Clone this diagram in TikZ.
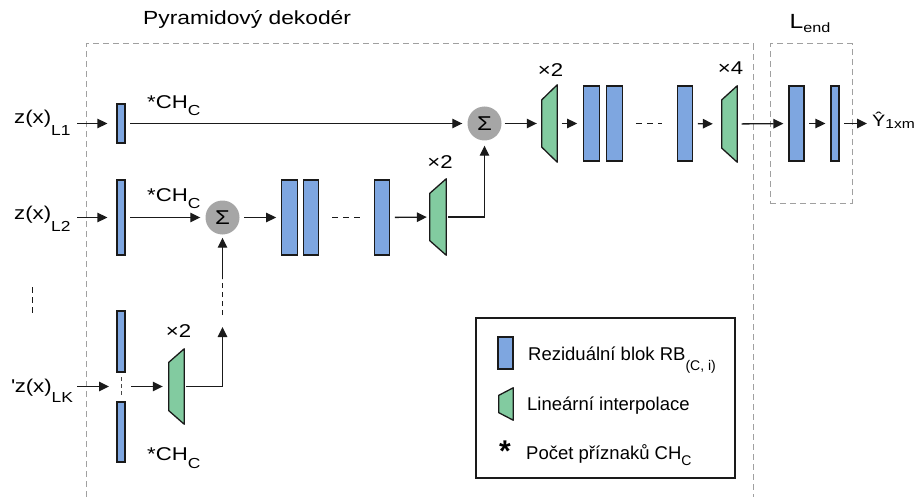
\documentclass[tikz,border=0pt]{standalone}
\usepackage{fontspec}
\setmainfont{Liberation Sans}
\newfontfamily\wide{Liberation Sans}[FakeStretch=1.2]
\usetikzlibrary{arrows.meta,calc}

\definecolor{rbfill}{HTML}{7EA6E0}
\definecolor{lifill}{HTML}{82CBA0}
\definecolor{sumfill}{HTML}{A6A6A6}
\definecolor{framegray}{HTML}{A0A0A0}
\definecolor{ink}{HTML}{1A1A1A}

% lowered, smaller subscript: #1 drop, #2 size, #3 text
\newcommand\lowsub[3]{\raisebox{-#1pt}{\fontsize{#2}{#2}\selectfont #3}}

\tikzset{
  rb/.style={draw=ink, fill=rbfill, line width=1.3pt, inner sep=0pt,
             minimum width=15.5pt, minimum height=75pt},
  rbthin/.style={rb, minimum width=8pt},
  sumnode/.style={circle, fill=sumfill, minimum size=34pt, inner sep=0pt,
                  font=\wide\fontsize{20}{20}\selectfont},
  arr/.style={draw=ink, line width=1.3pt, -{Triangle[length=10pt,width=9.5pt]},
              shorten <=4.5pt, shorten >=5pt},
  trapbox/.style={inner sep=0pt},
  trapline/.style={draw=ink, fill=lifill, line width=1.3pt, line join=round},
  lbl/.style={inner sep=0pt, font=\wide\fontsize{18.5}{18.5}\selectfont},
  legtxt/.style={inner sep=0pt, font=\fontsize{18.5}{18.5}\selectfont},
  groupframe/.style={draw=framegray, line width=1pt, dash pattern=on 6pt off 4pt},
  gapline/.style={draw=ink, line width=1.3pt, dash pattern=on 6pt off 5pt},
}

% linear interpolation block: name, x, y, width, height, slant
\newcommand\interp[6]{%
  \node[trapbox, minimum width=#4pt, minimum height=#5pt] (#1) at (#2,#3) {};
  \draw[trapline] (#1.north east) -- (#1.south east)
    -- ([yshift=#6pt]#1.south west) -- ([yshift=-#6pt]#1.north west) -- cycle;
}

\begin{document}
\begin{tikzpicture}[x=1pt,y=-1pt]
\useasboundingbox (0,0) rectangle (920,497);

% group frames
\coordinate (fbl) at (86,497);
\coordinate (ftl) at (86,44);
\coordinate (ftr) at (753,44);
\coordinate (fbr) at (753,497);
\draw[groupframe] (fbl) -- (ftl) -- (ftr) -- (fbr);
\node[groupframe, inner sep=0pt, minimum width=82pt, minimum height=159pt] (lend) at (811,123.5) {};

\node[lbl, anchor=base west, font=\wide\fontsize{19}{19}\selectfont] (title) at (143,25) {Pyramidový dekodér};
\node[lbl, anchor=base] (lendlbl) at (810,29) {\fontsize{20.5}{20.5}\selectfont L\lowsub{4}{13.5}{end}};

% inputs
\node[lbl, anchor=base west] (z1) at (14,123.5) {z(x)\lowsub{12}{14.5}{L1}};
\node[lbl, anchor=base west] (z2) at (14,219) {z(x)\lowsub{12}{14.5}{L2}};
\node[lbl, anchor=base west] (zK) at (11,392) {\textquotesingle z(x)\lowsub{10}{14.5}{LK}};
\coordinate (vd1) at (32.5,287);
\coordinate (vd2) at (32.5,313);
\draw[draw=ink, line width=1.2pt, dash pattern=on 6pt off 4pt] (vd1) -- (vd2);

% level 1
\node[rbthin, minimum height=39pt] (b1) at (121,123.5) {};
\node[lbl, anchor=base west] (ch1) at (147,108.5) {*CH\lowsub{7.5}{14.5}{C}};

% level 2
\node[rbthin] (b2) at (121,217.5) {};
\node[lbl, anchor=base west] (ch2) at (147,201) {*CH\lowsub{7.5}{14.5}{C}};
\node[sumnode] (s2) at (222.5,217.5) {Σ};
\node[rb] (b3) at (289.5,217.5) {};
\node[rb] (b4) at (311,217.5) {};
\node[rb] (b5) at (382,217.5) {};
\interp{tA}{438}{217}{16}{76}{14.5}
\node[lbl, anchor=base] (xA) at (440,168) {×2};

% level K
\node[rbthin, minimum height=61pt] (bk1) at (121,341.5) {};
\node[rbthin, minimum height=60pt] (bk2) at (121,432) {};
\node[lbl, anchor=base west] (ch3) at (147,460) {*CH\lowsub{8}{14.5}{C}};
\interp{tK}{176.5}{386.5}{15}{75}{13.5}
\node[lbl, anchor=base] (xK) at (178.5,337) {×2};
\coordinate (kinL) at (109,386.5);
\coordinate (kinR) at (131,386.5);
\coordinate (kup) at (222.5,327);
\coordinate (kd1) at (222.5,315);
\coordinate (kd2) at (222.5,279);

% top path
\node[sumnode] (s1) at (484.5,123.5) {Σ};
\interp{tB}{549.5}{123.5}{15}{77}{15}
\node[lbl, anchor=base] (xB) at (550.5,77) {×2};
\node[rb] (b6) at (591.5,123.5) {};
\node[rb] (b7) at (614.5,123.5) {};
\node[rb] (b8) at (685,123.5) {};
\interp{tC}{729.5}{124}{15}{76}{14}
\node[lbl, anchor=base] (xC) at (730.5,75) {×4};

% end block
\node[rb, minimum width=15pt] (b9) at (796.5,123.5) {};
\node[rbthin] (b10) at (835,123.5) {};
\node[lbl, anchor=base west] (yout) at (872,127) {\fontsize{16.5}{16.5}\selectfont Ŷ\lowsub{2}{13}{1xm}};

% connectors
\draw[arr, shorten <=6.5pt, shorten >=9pt] (z1.east |- b1.west) -- (b1.west);
\draw[arr, shorten <=6.5pt, shorten >=9pt] (z2.east |- b2.west) -- (b2.west);
\draw[arr, shorten <=4pt, shorten >=0pt] (zK.east |- kinL) -- (kinL);
\draw[draw=ink!80, line width=1pt, dash pattern=on 4pt off 3pt, shorten <=4.5pt, shorten >=4.5pt] (bk1.south) -- (bk2.north);
\draw[arr, shorten <=0pt, shorten >=6pt] (kinR) -- (tK.west |- kinR);
\draw[arr, shorten <=2pt, shorten >=0pt] (tK.east) -| (kup);
\draw[draw=ink, line width=1.3pt, dash pattern=on 5pt off 4pt] (kd1) -- (kd2);
\draw[arr, shorten <=0pt, shorten >=3pt] (kd2) -- (s2);

\draw[arr] (b1) -- (s1);
\draw[arr] (b2) -- (s2);
\draw[arr] (s2) -- (b3);
\draw[gapline] ([xshift=13pt]b4.east) -- ([xshift=-14pt]b5.west);
\draw[arr, shorten >=3pt] (b5) -- (tA);
\draw[arr, shorten <=2pt] (tA.east) -| (s1);
\draw[arr, shorten <=3pt] (s1) -- (tB);
\draw[arr, shorten >=6pt] (tB) -- (b6);
\draw[gapline] ([xshift=13pt]b7.east) -- ([xshift=-15pt]b8.west);
\draw[arr, shorten >=9pt] (b8) -- (tC);
\draw[arr] (tC) -- (b9);
\draw[arr] (b9) -- (b10);
\draw[arr] (b10) -- (b10 -| yout.west);

% legend
\node[draw=ink, line width=1.3pt, inner sep=0pt, minimum width=259pt, minimum height=160pt] (legend) at (605.5,398) {};
\node[rb, minimum width=15pt, minimum height=32pt] (legrb) at (505.5,353) {};
\interp{legli}{506}{404}{14}{32}{7.5}
\node[legtxt, anchor=base west] (legrbt) at (528,360) {Reziduální blok RB\lowsub{10}{14}{(C, i)}};
\node[legtxt, anchor=base west] (leglit) at (527,410) {Lineární interpolace};
\node[inner sep=0pt, anchor=base west, font=\bfseries\fontsize{30}{30}\selectfont] (legast) at (499,461) {*};
\node[legtxt, anchor=base west] (legcht) at (526,459) {Počet příznaků CH\lowsub{6}{14}{C}};
\end{tikzpicture}
\end{document}
